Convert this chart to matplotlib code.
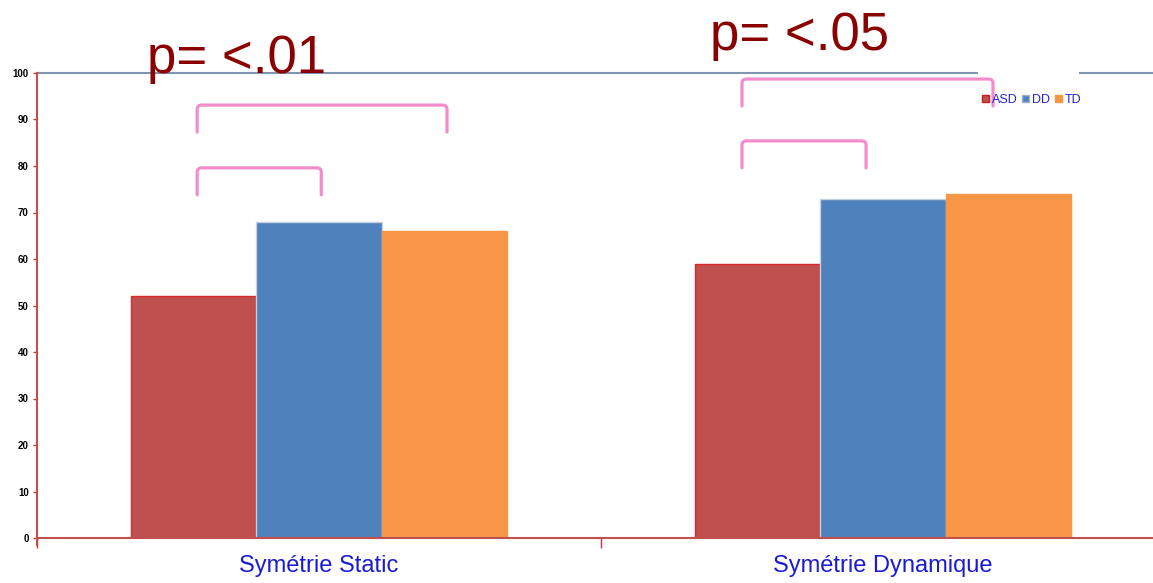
import matplotlib
matplotlib.use("Agg")
import matplotlib.pyplot as plt
import numpy as np
from matplotlib.patches import Patch, PathPatch
from matplotlib.path import Path

plt.rcParams['font.family'] = ['Liberation Sans', 'DejaVu Sans']

# Données
categories = ['Symétrie Static', 'Symétrie Dynamique']
groups = ['ASD', 'DD', 'TD']
asd = [52, 59]
dd = [68, 73]
td = [66, 74]
p_labels = ['p= <.01', 'p= <.05']

colors = ['#c0504d', '#4f81bd', '#f79646']
edges = ['#d92b2b', '#c6cfdd', '#f79646']

fig = plt.figure(figsize=(11.53, 5.83), dpi=100)
ax = fig.add_axes([37 / 1153, 45 / 583, 1128 / 1153, 465 / 583])

x = np.arange(len(categories))
w = 0.2225
for i, (vals, c, e) in enumerate(zip([asd, dd, td], colors, edges)):
    ax.bar(x + (i - 1) * w, vals, w, color=c, edgecolor=e, linewidth=1, label=groups[i], zorder=2)

ax.set_xlim(-0.5, 1.5)
ax.set_ylim(0, 100)

# axes et graduations
red = '#c0504d'
for s in ['top', 'right']:
    ax.spines[s].set_visible(False)
ax.spines['left'].set_color(red)
ax.spines['left'].set_linewidth(1.5)
ax.spines['left'].set_bounds(-1.5, 100)
ax.spines['bottom'].set_color(red)
ax.spines['bottom'].set_linewidth(1.5)

ax.set_yticks(range(0, 101, 10))
ax.tick_params(axis='y', length=3, width=1, color='#e03030', labelsize=7, pad=3)
for lbl in ax.get_yticklabels():
    lbl.set_fontweight('bold')

ax.set_xticks([-0.5, 0.5, 1.5])
ax.set_xticklabels([])
ax.tick_params(axis='x', which='major', length=7, width=1, color='#e03030')
ax.set_xticks(x, minor=True)
ax.set_xticklabels(categories, minor=True)
ax.tick_params(axis='x', which='minor', length=0, pad=12, labelsize=17, labelcolor='#1a1ad6')

# ligne du haut (coupée par la légende)
ax.axhline(100, xmin=0, xmax=(977 - 37) / 1128, color='#8096b0', lw=1.5, clip_on=False, zorder=1)
ax.axhline(100, xmin=(1080 - 37) / 1128, xmax=1, color='#8096b0', lw=1.5, clip_on=False, zorder=1)

# accolades de significativité (coins arrondis)
pink = '#f48ccb'
brackets = [(-0.216, 0.004, 79.6, 73.8),
            (-0.216, 0.227, 93.1, 87.3),
            (0.750, 0.970, 85.4, 79.6),
            (0.750, 1.195, 98.7, 92.9)]
rx, ry = 0.008, 0.9
for x0, x1, top, bot in brackets:
    verts = [(x0, bot), (x0, top - ry), (x0, top), (x0 + rx, top),
             (x1 - rx, top), (x1, top), (x1, top - ry), (x1, bot)]
    codes = [Path.MOVETO, Path.LINETO, Path.CURVE3, Path.CURVE3,
             Path.LINETO, Path.CURVE3, Path.CURVE3, Path.LINETO]
    ax.add_patch(PathPatch(Path(verts, codes), fill=False, edgecolor=pink, lw=2.3,
                           capstyle='round', joinstyle='round', clip_on=False, zorder=4))

ax.text(-0.305, 100, p_labels[0], fontsize=38, color='#8b0000', ha='left', va='baseline', clip_on=False, zorder=5)
ax.text(0.693, 104.9, p_labels[1], fontsize=38, color='#8b0000', ha='left', va='baseline', clip_on=False, zorder=5)

# légende
handles = [Patch(facecolor=c, edgecolor=e) for c, e in zip(colors, ['#c41e1e', '#9fb2cc', '#f79646'])]
leg = ax.legend(handles, groups, loc='center left', bbox_to_anchor=(982 / 1153, (583 - 100) / 583),
                bbox_transform=fig.transFigure, ncol=3, frameon=False, fontsize=9,
                handlelength=0.56, handleheight=0.56, handletextpad=0.25, columnspacing=0.35,
                borderpad=0, borderaxespad=0)
for t in leg.get_texts():
    t.set_color('#2222dd')

fig.savefig('out.png', dpi=100)
